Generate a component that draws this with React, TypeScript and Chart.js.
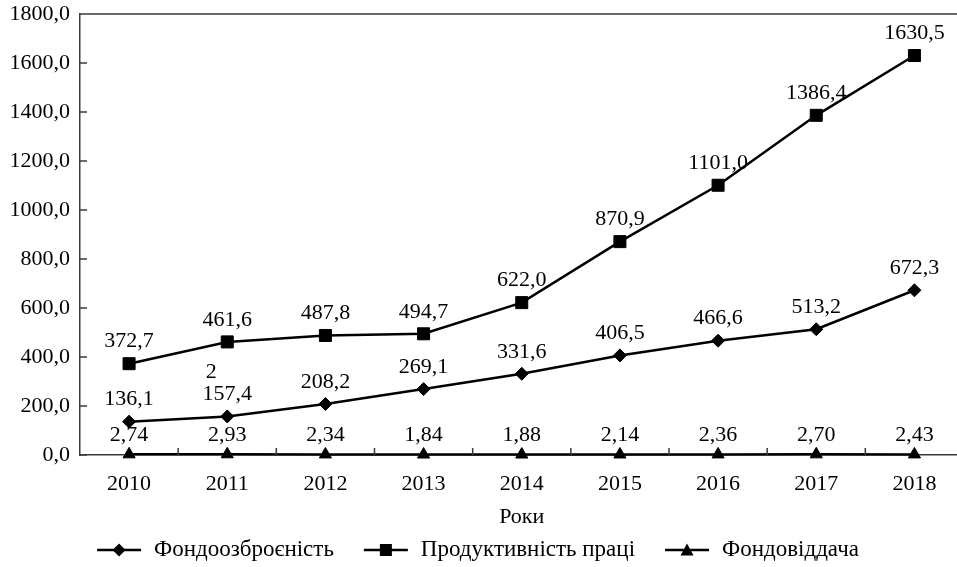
import { useEffect, useRef } from 'react';
import { Chart, registerables } from 'chart.js';

Chart.register(...registerables);

const years = ['2010', '2011', '2012', '2013', '2014', '2015', '2016', '2017', '2018'];
const fondoozbroienist = [136.1, 157.4, 208.2, 269.1, 331.6, 406.5, 466.6, 513.2, 672.3];
const produktyvnist = [372.7, 461.6, 487.8, 494.7, 622.0, 870.9, 1101.0, 1386.4, 1630.5];
const fondoviddacha = [2.74, 2.93, 2.34, 1.84, 1.88, 2.14, 2.36, 2.7, 2.43];
const seriesNames = ['Фондоозброєність', 'Продуктивність праці', 'Фондовіддача'];
const seriesStyles = ['rectRot', 'rect', 'triangle'];
const seriesDecimals = [1, 1, 2];
const yMin = 0;
const yMax = 1800;
const yStep = 200;
const xTitle = 'Роки';
// a stray label that appears in the source picture near the 2011 point
const strayLabels = [{ dataset: 0, index: 1, text: '2' }];

const FONT = "'Liberation Serif', 'Times New Roman', serif";
const FONT_SIZE = 22;
const LEGEND_FONT_SIZE = 23;
const AXIS_COLOR = '#3a3a3a';
const PLOT_TOP = 14;
const PLOT_BOTTOM = 455;
const LEGEND_Y = 550;
const LEGEND_CENTER_X = 478;

const fmt = (v: number, d: number) => v.toFixed(d).replace('.', ',');

function drawMarker(g: CanvasRenderingContext2D, style: string, cx: number, cy: number) {
  g.beginPath();
  if (style === 'rectRot') {
    g.moveTo(cx, cy - 6.5);
    g.lineTo(cx + 6.5, cy);
    g.lineTo(cx, cy + 6.5);
    g.lineTo(cx - 6.5, cy);
  } else if (style === 'rect') {
    g.rect(cx - 6, cy - 6, 12, 12);
  } else {
    g.moveTo(cx, cy - 6.5);
    g.lineTo(cx + 6.5, cy + 5.5);
    g.lineTo(cx - 6.5, cy + 5.5);
  }
  g.closePath();
  g.fill();
}

const framePlugin = {
  id: 'frame',
  afterDatasetsDraw(chart: any) {
    const { ctx, chartArea, scales } = chart;
    const { left, right, top, bottom } = chartArea;
    const x = scales.x;
    const y = scales.y;
    ctx.save();
    ctx.strokeStyle = AXIS_COLOR;
    ctx.lineWidth = 1.5;
    ctx.beginPath();
    ctx.moveTo(left - 0.75, top);
    ctx.lineTo(right + 2, top);
    y.ticks.forEach((_t: any, i: number) => {
      const py = y.getPixelForTick(i);
      ctx.moveTo(left, py);
      ctx.lineTo(left + 7, py);
    });
    for (let i = 1; i < x.ticks.length; i++) {
      const px = (x.getPixelForTick(i - 1) + x.getPixelForTick(i)) / 2;
      ctx.moveTo(px, bottom);
      ctx.lineTo(px, bottom - 7);
    }
    ctx.stroke();
    ctx.restore();
  },
};

const labelPlugin = {
  id: 'valueLabels',
  afterDraw(chart: any) {
    const { ctx } = chart;
    ctx.save();
    ctx.font = `${FONT_SIZE}px ${FONT}`;
    ctx.fillStyle = '#000';
    ctx.textAlign = 'center';
    ctx.textBaseline = 'middle';
    chart.data.datasets.forEach((ds: any, di: number) => {
      const meta = chart.getDatasetMeta(di);
      meta.data.forEach((pt: any, i: number) => {
        const off = di === 2 ? 19 : 22;
        ctx.fillText(fmt(ds.data[i], seriesDecimals[di]), pt.x, pt.y - off);
      });
    });
    strayLabels.forEach((s) => {
      const pt = chart.getDatasetMeta(s.dataset).data[s.index];
      ctx.fillText(s.text, pt.x - 16, pt.y - 44);
    });
    ctx.restore();
  },
};

const legendPlugin = {
  id: 'lineLegend',
  afterDraw(chart: any) {
    const { ctx } = chart;
    const iconW = 44;
    const iconGap = 13;
    const itemGap = 30;
    ctx.save();
    ctx.font = `${LEGEND_FONT_SIZE}px ${FONT}`;
    const widths = chart.data.datasets.map((ds: any) => ctx.measureText(ds.label).width);
    const total =
      widths.reduce((a: number, b: number) => a + b, 0) +
      widths.length * (iconW + iconGap) +
      (widths.length - 1) * itemGap;
    let x = LEGEND_CENTER_X - total / 2;
    const y = LEGEND_Y;
    chart.data.datasets.forEach((ds: any, i: number) => {
      ctx.strokeStyle = '#000';
      ctx.fillStyle = '#000';
      ctx.lineWidth = 2.5;
      ctx.beginPath();
      ctx.moveTo(x, y);
      ctx.lineTo(x + iconW, y);
      ctx.stroke();
      drawMarker(ctx, seriesStyles[i], x + iconW / 2, y);
      ctx.textAlign = 'left';
      ctx.textBaseline = 'middle';
      ctx.fillText(ds.label, x + iconW + iconGap, y);
      x += iconW + iconGap + widths[i] + itemGap;
    });
    ctx.restore();
  },
};

export default function App() {
  const ref = useRef<HTMLCanvasElement>(null);
  useEffect(() => {
    document.body.style.margin = '0';
    document.body.style.overflow = 'hidden';
    Chart.defaults.font.family = FONT;
    Chart.defaults.font.size = FONT_SIZE;
    Chart.defaults.color = '#000';
    const common = {
      borderColor: '#000',
      backgroundColor: '#000',
      pointBackgroundColor: '#000',
      pointBorderColor: '#000',
      pointBorderWidth: 1,
      borderWidth: 2.5,
      tension: 0,
      clip: false as const,
    };
    const chart = new Chart(ref.current!, {
      type: 'line',
      data: {
        labels: years,
        datasets: [
          { ...common, label: seriesNames[0], data: fondoozbroienist, pointStyle: seriesStyles[0] as any, pointRadius: 6.5 },
          { ...common, label: seriesNames[1], data: produktyvnist, pointStyle: seriesStyles[1] as any, pointRadius: 8.5 },
          { ...common, label: seriesNames[2], data: fondoviddacha, pointStyle: seriesStyles[2] as any, pointRadius: 7 },
        ],
      },
      options: {
        animation: false,
        responsive: true,
        maintainAspectRatio: false,
        layout: { padding: { top: PLOT_TOP, right: 0, left: 0, bottom: 0 } },
        plugins: {
          tooltip: { enabled: false },
          legend: { display: false },
        },
        scales: {
          x: {
            offset: true,
            grid: { display: false, drawTicks: false, offset: true },
            border: { display: true, color: AXIS_COLOR, width: 1.5 },
            ticks: { padding: 16, font: { size: FONT_SIZE, family: FONT }, color: '#000' },
            title: {
              display: true,
              text: xTitle,
              font: { size: FONT_SIZE, family: FONT },
              color: '#000',
              padding: { top: 4, bottom: 37 },
            },
            afterFit: (scale: any) => {
              scale.height = scale.chart.height - PLOT_BOTTOM;
            },
          },
          y: {
            min: yMin,
            max: yMax,
            grid: { display: false, drawTicks: false },
            border: { display: true, color: AXIS_COLOR, width: 1.5 },
            ticks: {
              stepSize: yStep,
              padding: 10,
              font: { size: FONT_SIZE, family: FONT },
              color: '#000',
              callback: (v: any) => fmt(Number(v), 1),
            },
            afterFit: (scale: any) => {
              scale.width = 80;
              scale.paddingTop = 0;
              scale.paddingBottom = 0;
            },
          },
        },
      },
      plugins: [framePlugin, labelPlugin, legendPlugin],
    });
    return () => chart.destroy();
  }, []);
  return (
    <div style={{ width: 973, height: 567, position: 'relative' }}>
      <canvas ref={ref} />
    </div>
  );
}
